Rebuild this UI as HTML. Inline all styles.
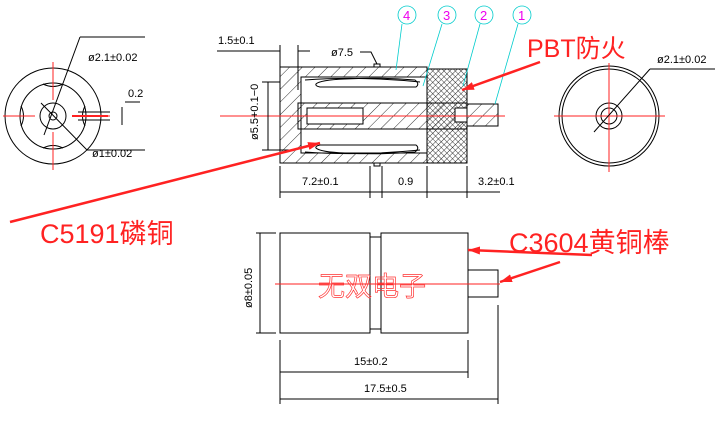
<!DOCTYPE html>
<html><head><meta charset="utf-8"><style>
body{margin:0;background:#fff}
svg{display:block;font-family:"Liberation Sans","Noto Sans CJK SC",sans-serif}
.t{font-size:11px;fill:#000}
.k{stroke:#000;stroke-width:1;fill:none}
.r{stroke:#f22;stroke-width:1;fill:none}
.c{stroke:#0cc;stroke-width:0.8;fill:none}
</style></head><body>
<svg width="721" height="425" viewBox="0 0 721 425" xmlns="http://www.w3.org/2000/svg">
<defs>
<pattern id="h" width="9" height="9" patternUnits="userSpaceOnUse" patternTransform="rotate(45)"><line x1="0" y1="0" x2="0" y2="9" stroke="#000" stroke-width="0.8"/></pattern>
<pattern id="x" width="4" height="4" patternUnits="userSpaceOnUse" patternTransform="rotate(45)"><path d="M0 0H4M0 0V4" stroke="#000" stroke-width="0.8"/></pattern>
<marker id="ra" markerWidth="12" markerHeight="8" refX="12" refY="4" orient="auto" markerUnits="userSpaceOnUse"><path d="M0 0L12 4L0 8z" fill="#f22"/></marker>
</defs>

<!-- Left view -->
<circle cx="53" cy="116" r="48" class="k" stroke-width="1.6"/>
<circle cx="53" cy="116" r="33" class="k"/>
<path d="M43 84Q53 89 63 84M43 148Q53 143 63 148M21 106Q26 116 21 126M85 106Q80 116 85 126" class="k"/>
<circle cx="53" cy="116" r="13" class="k"/>
<circle cx="53" cy="116" r="4" class="k"/>
<path d="M3 116H35M72 116H110M53 62V100M53 132V170" class="r"/>
<path d="M72 116H108" stroke="#f22" stroke-width="2"/>
<path d="M78 112H110M78 120H110" class="k" stroke-width="0.6"/>
<path d="M122 107V125M125 102H140" class="k"/>
<text x="128" y="97" class="t">0.2</text>
<path d="M80 37L44 135M80 37H145" class="k"/>
<text x="88" y="61" class="t">ø2.1±0.02</text>
<path d="M41 103L87 150H145" class="k"/>
<text x="92" y="157" class="t">ø1±0.02</text>

<!-- Right view -->
<circle cx="609" cy="116" r="50" class="k"/>
<circle cx="609" cy="116" r="47" class="k"/>
<circle cx="609" cy="116" r="13" class="k"/>
<circle cx="609" cy="116" r="8" class="k"/>
<path d="M554 116H665M609 63V172" class="r"/>
<path d="M650 69L594 132M650 69H715" class="k"/>
<text x="657" y="63" class="t">ø2.1±0.02</text>

<!-- Section view -->
<rect x="280" y="67" width="147" height="96" fill="url(#h)" stroke="#000"/>
<rect x="427" y="69" width="40" height="94" fill="url(#x)" stroke="#000"/>
<rect x="301" y="77" width="126" height="76" fill="#fff" stroke="#000"/>
<path d="M316 84Q320 80 345 79Q380 77 415 80Q420 84 416 87H320Q315 86 316 84Z" fill="#fff" class="k"/>
<path d="M316 148Q320 152 345 153Q380 155 415 152Q420 148 416 145H320Q315 146 316 148Z" fill="#fff" class="k"/>
<path d="M305 80Q360 76 420 82M305 152Q360 156 420 150" class="k" stroke-width="0.6"/>
<rect x="298" y="103" width="169" height="26" fill="url(#h)" stroke="#000"/>
<rect x="467" y="104" width="31" height="22" fill="url(#h)" stroke="#000"/>
<rect x="307" y="108" width="56" height="16" fill="#fff" stroke="#000"/>
<rect x="455" y="108" width="12" height="14" fill="#fff" stroke="#000"/>
<path d="M374 67v-3h6v3M374 163v3h6v-3" class="k"/>
<path d="M220 116H505" class="r"/>
<path d="M217 51H280M298 51H310M280 45V90M298 45V90" class="k"/>
<text x="218" y="44" class="t">1.5±0.1</text>
<text x="331" y="56" class="t">ø7.5</text>
<path d="M360 52H371L377 64" class="k"/>
<path d="M262 82H280M262 150H290M268 82V150" class="k"/>
<text x="0" y="0" class="t" transform="translate(258 140) rotate(-90)">ø5.5+0.1−0</text>
<path d="M280 166V198M370 166V198M382 166V198M427 166V198M467 166V198M280 192H500" class="k"/>
<text x="302" y="185" class="t">7.2±0.1</text>
<text x="398" y="185" class="t">0.9</text>
<text x="478" y="185" class="t">3.2±0.1</text>
<g class="c"><circle cx="407" cy="15" r="9"/><circle cx="447" cy="15" r="9"/><circle cx="484" cy="15" r="9"/><circle cx="522" cy="15" r="9"/>
<path d="M402 24L396 70M442 24L423 86M480 24L463 86M518 24L495 104"/></g>
<g font-size="13" fill="#e0e"><text x="403" y="20">4</text><text x="443" y="20">3</text><text x="480" y="20">2</text><text x="518" y="20">1</text></g>

<!-- Bottom view -->
<rect x="280" y="233" width="90" height="100" class="k"/>
<rect x="370" y="237" width="11" height="92" class="k"/>
<rect x="381" y="233" width="87" height="100" class="k"/>
<rect x="468" y="270" width="30" height="27" class="k"/>
<path d="M256 233H276M256 333H276M260 233V333M280 340V404M468 340V378M498 305V404M280 372H468M280 399H498" class="k"/>
<text x="0" y="0" class="t" transform="translate(252 308) rotate(-90)">ø8±0.05</text>
<text x="354" y="365" class="t">15±0.2</text>
<text x="364" y="392" class="t">17.5±0.5</text>
<path d="M275 284H500" class="r"/>
<text x="318" y="296" font-size="27" fill="none" stroke="#f33" stroke-width="0.7">无双电子</text>

<g fill="#f22" font-size="25">
<text x="527" y="57">PBT防火</text>
<text x="40" y="243" font-size="27">C5191磷铜</text>
<text x="509" y="252" font-size="27">C3604黄铜棒</text>
</g>
<g stroke="#f22" stroke-width="2.5">
<path d="M540 62L462 90" marker-end="url(#ra)"/>
<path d="M10 222L320 143" marker-end="url(#ra)"/>
<path d="M592 255L468 250" marker-end="url(#ra)"/>
<path d="M560 262L500 282" marker-end="url(#ra)"/>
</g>
</svg>
</body></html>
